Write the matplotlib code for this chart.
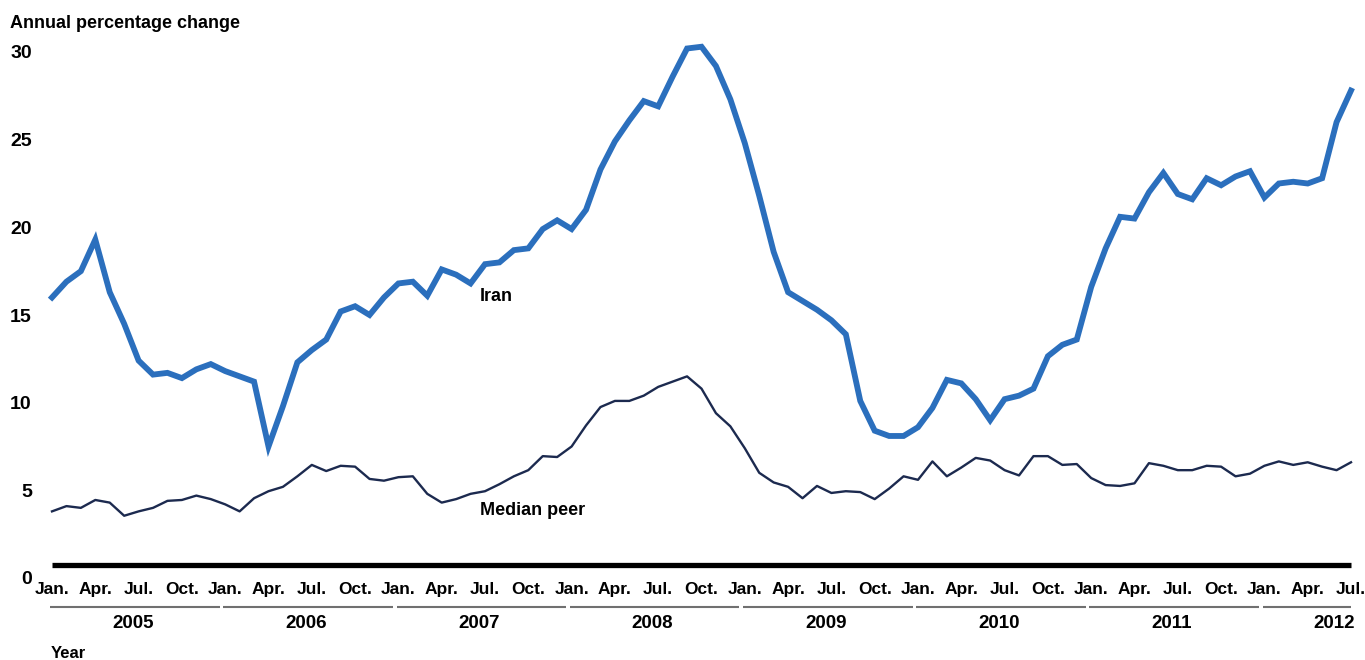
import numpy as np
import matplotlib.pyplot as plt

# monthly, Jan. 2005 .. Jul. 2012
iran = [16.0, 16.9, 17.5, 19.3, 16.3, 14.5, 12.4, 11.6, 11.7, 11.4, 11.9, 12.2,
        11.8, 11.5, 11.2, 7.5, 9.8, 12.3, 13.0, 13.6, 15.2, 15.5, 15.0, 16.0,
        16.8, 16.9, 16.1, 17.6, 17.3, 16.8, 17.9, 18.0, 18.7, 18.8, 19.9, 20.4,
        19.9, 21.0, 23.3, 24.9, 26.1, 27.2, 26.9, 28.6, 30.2, 30.3, 29.2, 27.3,
        24.8, 21.8, 18.6, 16.3, 15.8, 15.3, 14.7, 13.9, 10.1, 8.4, 8.1, 8.1,
        8.6, 9.7, 11.3, 11.1, 10.2, 9.0, 10.2, 10.4, 10.8, 12.65, 13.3, 13.6,
        16.6, 18.8, 20.6, 20.5, 22.0, 23.1, 21.9, 21.6, 22.8, 22.4, 22.9, 23.2,
        21.7, 22.5, 22.6, 22.5, 22.8, 26.0, 27.8]
median_peer = [3.8, 4.1, 4.0, 4.45, 4.3, 3.55, 3.8, 4.0, 4.4, 4.45, 4.7, 4.5,
               4.2, 3.8, 4.55, 4.95, 5.2, 5.8, 6.45, 6.1, 6.4, 6.35, 5.65, 5.55,
               5.75, 5.8, 4.8, 4.3, 4.5, 4.8, 4.95, 5.35, 5.8, 6.15, 6.95, 6.9,
               7.5, 8.7, 9.75, 10.1, 10.1, 10.4, 10.9, 11.2, 11.5, 10.8, 9.4, 8.65,
               7.4, 6.0, 5.45, 5.2, 4.55, 5.25, 4.85, 4.95, 4.9, 4.5, 5.1, 5.8,
               5.6, 6.65, 5.8, 6.3, 6.85, 6.7, 6.15, 5.85, 6.95, 6.95, 6.45, 6.5,
               5.7, 5.3, 5.25, 5.4, 6.55, 6.4, 6.15, 6.15, 6.4, 6.35, 5.8, 5.95,
               6.4, 6.65, 6.45, 6.6, 6.35, 6.15, 6.6]
month_labels = ['Jan.', 'Apr.', 'Jul.', 'Oct.']
years = ['2005', '2006', '2007', '2008', '2009', '2010', '2011', '2012']
y_ticks = [0, 5, 10, 15, 20, 25, 30]

plt.rcParams['font.family'] = ['Liberation Sans', 'DejaVu Sans']
plt.rcParams['font.weight'] = 'bold'

fig = plt.figure(figsize=(13.65, 6.6), dpi=100)
ax = fig.add_axes([52 / 1365, 82 / 660, 1299 / 1365, 526 / 660])

x = np.arange(len(iran))
ax.plot(x, iran, color='#2b6fbd', lw=4.2, solid_joinstyle='miter', clip_on=False, zorder=3)
ax.plot(x, median_peer, color='#1c2a4f', lw=1.7, clip_on=False, zorder=3)

# heavy base line
ax.plot([0, x[-1]], [0.75, 0.75], color='black', lw=3.8, solid_capstyle='butt', clip_on=False)

ax.set_xlim(0, x[-1])
ax.set_ylim(0, 30)
for s in ax.spines.values():
    s.set_visible(False)
ax.set_yticks(y_ticks)
ax.set_yticklabels([str(v) for v in y_ticks], fontsize=14, fontweight='bold')
ax.tick_params(axis='y', length=0, pad=14.5)
ax.set_xticks([])

# month labels every quarter
for i in range(0, len(iran), 3):
    ax.text(i, -0.65, month_labels[(i // 3) % 4], ha='center', va='center',
            fontsize=12.5, fontweight='bold', clip_on=False)

# year brackets
for k, yr in enumerate(years):
    start = 12 * k - 0.12
    end = min(12 * k + 11.62, x[-1])
    ax.plot([start, end], [-1.65, -1.65], color='#707070', lw=1.5, clip_on=False,
            solid_capstyle='butt')
    cx = 12 * k + 5.6 if k < len(years) - 1 else 88.8
    ax.text(cx, -2.57, yr, ha='center', va='center', fontsize=13.5,
            fontweight='bold', clip_on=False)

ax.text(29.66, 16.06, 'Iran', ha='left', va='center', fontsize=13, fontweight='bold')
ax.text(29.66, 3.83, 'Median peer', ha='left', va='center', fontsize=13, fontweight='bold')

fig.text(10 / 1365, 1 - 23 / 660, 'Annual percentage change', ha='left', va='center',
         fontsize=13, fontweight='bold')
fig.text(51 / 1365, 1 - 653 / 660, 'Year', ha='left', va='center',
         fontsize=12, fontweight='bold')

fig.savefig('out.png', dpi=100)
